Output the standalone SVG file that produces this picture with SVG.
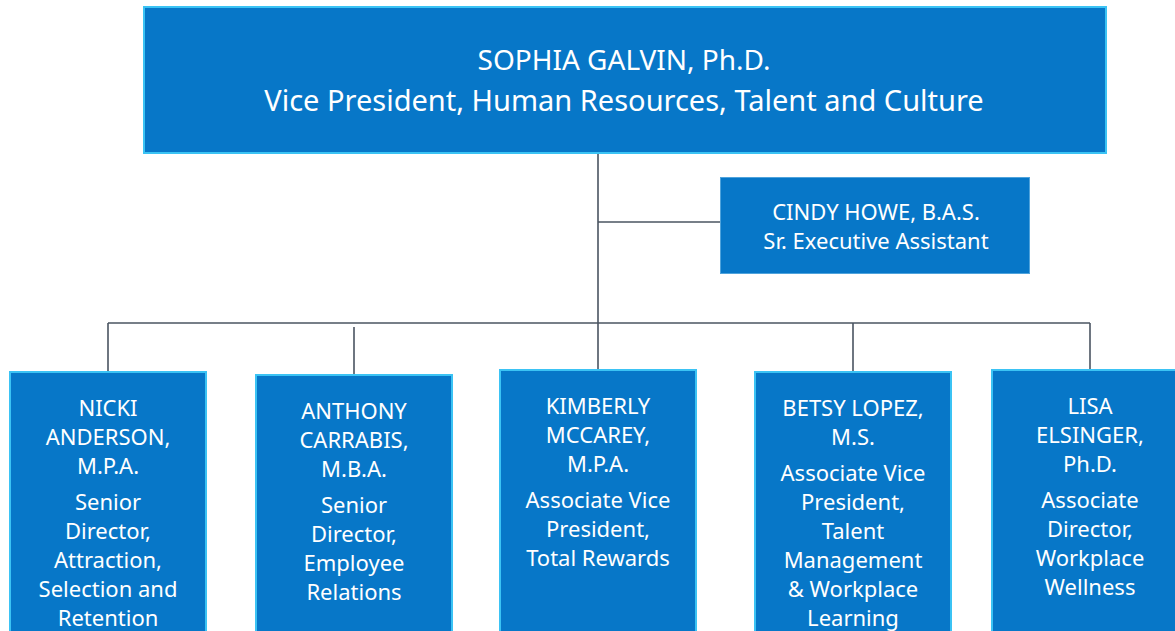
<svg xmlns="http://www.w3.org/2000/svg" width="1175" height="631" viewBox="0 0 1175 631">
<style>
.box{fill:#0777C8;stroke:#3BC3F4;stroke-width:2}
.box2{fill:#0777C8;stroke:#4FA3DC;stroke-width:1}
text{font-family:"Noto Sans","Open Sans","Liberation Sans",sans-serif;fill:#FFFFFF;text-anchor:middle}
.t1{font-size:28px}
.t1b{font-size:29px}
.t2{font-size:22px}
.ln{stroke:#4A5461;stroke-width:1.6;fill:none}
</style>
<rect width="1175" height="631" fill="#FFFFFF"/>
<g id="connectors">
<line class="ln" x1="598" y1="153" x2="598" y2="371"/>
<line class="ln" x1="598" y1="222" x2="720" y2="222"/>
<line class="ln" x1="108" y1="323" x2="1090" y2="323"/>
<line class="ln" x1="108" y1="323" x2="108" y2="372"/>
<line class="ln" x1="354" y1="327" x2="354" y2="375"/>
<line class="ln" x1="853" y1="323" x2="853" y2="372"/>
<line class="ln" x1="1090" y1="323" x2="1090" y2="370"/>
</g>
<g id="node-galvin">
<rect class="box" x="144" y="7" width="962" height="146"/>
<text class="t1" x="624" y="70">SOPHIA GALVIN, Ph.D.</text>
<text class="t1b" x="624" y="111">Vice President, Human Resources, Talent and Culture</text>
</g>
<g id="node-howe">
<rect class="box2" x="720.5" y="177.5" width="309" height="96"/>
<text class="t2" x="876" y="220">CINDY HOWE, B.A.S.</text>
<text class="t2" x="876" y="249">Sr. Executive Assistant</text>
</g>
<g id="node-anderson">
<rect class="box" x="10" y="372" width="196" height="270"/>
<text class="t2" x="108" y="416">NICKI</text>
<text class="t2" x="108" y="445">ANDERSON,</text>
<text class="t2" x="108" y="474">M.P.A.</text>
<text class="t2" x="108" y="510">Senior</text>
<text class="t2" x="108" y="539">Director,</text>
<text class="t2" x="108" y="568">Attraction,</text>
<text class="t2" x="108" y="597">Selection and</text>
<text class="t2" x="108" y="626">Retention</text>
</g>
<g id="node-carrabis">
<rect class="box" x="256" y="375" width="196" height="270"/>
<text class="t2" x="354" y="419">ANTHONY</text>
<text class="t2" x="354" y="448">CARRABIS,</text>
<text class="t2" x="354" y="477">M.B.A.</text>
<text class="t2" x="354" y="513">Senior</text>
<text class="t2" x="354" y="542">Director,</text>
<text class="t2" x="354" y="571">Employee</text>
<text class="t2" x="354" y="600">Relations</text>
</g>
<g id="node-mccarey">
<rect class="box" x="500" y="370" width="196" height="270"/>
<text class="t2" x="598" y="414">KIMBERLY</text>
<text class="t2" x="598" y="443">MCCAREY,</text>
<text class="t2" x="598" y="472">M.P.A.</text>
<text class="t2" x="598" y="508">Associate Vice</text>
<text class="t2" x="598" y="537">President,</text>
<text class="t2" x="598" y="566">Total Rewards</text>
</g>
<g id="node-lopez">
<rect class="box" x="755" y="372" width="196" height="270"/>
<text class="t2" x="853" y="416">BETSY LOPEZ,</text>
<text class="t2" x="853" y="445">M.S.</text>
<text class="t2" x="853" y="481">Associate Vice</text>
<text class="t2" x="853" y="510">President,</text>
<text class="t2" x="853" y="539">Talent</text>
<text class="t2" x="853" y="568">Management</text>
<text class="t2" x="853" y="597">&amp; Workplace</text>
<text class="t2" x="853" y="626">Learning</text>
</g>
<g id="node-elsinger">
<rect class="box" x="992" y="370" width="196" height="270"/>
<text class="t2" x="1090" y="414">LISA</text>
<text class="t2" x="1090" y="443">ELSINGER,</text>
<text class="t2" x="1090" y="472">Ph.D.</text>
<text class="t2" x="1090" y="508">Associate</text>
<text class="t2" x="1090" y="537">Director,</text>
<text class="t2" x="1090" y="566">Workplace</text>
<text class="t2" x="1090" y="595">Wellness</text>
</g>
</svg>
